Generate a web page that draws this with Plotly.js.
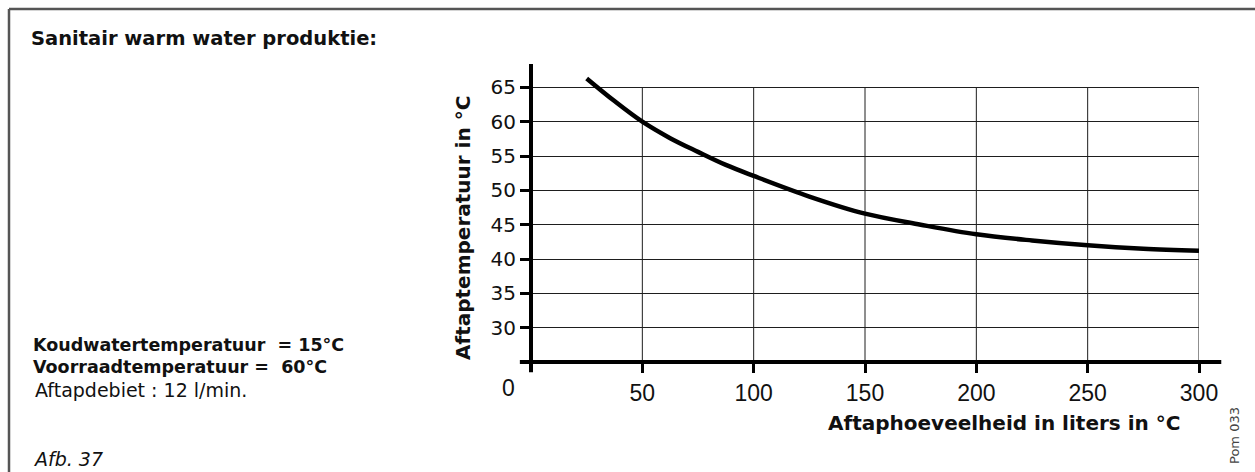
<!DOCTYPE html>
<html>
<head>
<meta charset="utf-8">
<script src="https://cdn.plot.ly/plotly-3.0.1.min.js"></script>
<style>
  html, body { margin: 0; padding: 0; background: #ffffff; }
  #chart { width: 1255px; height: 472px; }
</style>
</head>
<body>
<div id="chart"></div>
<script>
// ---- Data ----
const volumeLiters = [25, 37.5, 50, 62.5, 75, 87.5, 100, 125, 150, 175, 200, 225, 250, 275, 300];
const tapTempC     = [66.3, 63.0, 60.0, 57.6, 55.6, 53.7, 52.1, 49.1, 46.6, 45.0, 43.6, 42.7, 42.0, 41.5, 41.2];

const xTickVals = [50, 100, 150, 200, 250, 300];
const xTickText = ['50', '100', '150', '200', '250', '300'];
const yTickVals = [30, 35, 40, 45, 50, 55, 60, 65];
const yTickText = ['30', '35', '40', '45', '50', '55', '60', '65'];
const originLabel = '0';

const chartTitle = 'Sanitair warm water produktie:';
const yTitle = 'Aftaptemperatuur in °C';
const xTitle = 'Aftaphoeveelheid in liters in °C';
const noteLines = ['Koudwatertemperatuur\u00a0 = 15°C', 'Voorraadtemperatuur =\u00a0 60°C'];
const noteFlow = 'Aftapdebiet : 12 l/min.';
const figLabel = 'Afb. 37';
const codeLabel = 'Pom 033';

// ---- Layout geometry ----
const W = 1255, H = 472;
const M = { l: 531, r: 56, t: 64, b: 110 };
const xRange = [0, 300];
const yRange = [25, 68.4];
const gridTop = 65;
const pw = W - M.l - M.r, ph = H - M.t - M.b;
const pxX = px => (px - M.l) / pw;             // page pixel -> paper x
const pxY = py => (H - M.b - py) / ph;         // page pixel -> paper y
const dX = v => (v - xRange[0]) / (xRange[1] - xRange[0]);
const dY = v => (v - yRange[0]) / (yRange[1] - yRange[0]);

const sans = 'DejaVu Sans, Verdana, sans-serif';
const tickSans = 'Liberation Sans, Arial, sans-serif';
const ink = '#000000';
const gridInk = '#1e1e1e';

const shapes = [];
// vertical grid lines (stop at the top grid line)
xTickVals.forEach(v => shapes.push({
  type: 'line', xref: 'x', yref: 'y', x0: v, x1: v, y0: yRange[0], y1: gridTop,
  line: { color: gridInk, width: 1 }, layer: 'below'
}));
// thick x axis (extends slightly beyond the grid)
shapes.push({ type: 'line', xref: 'paper', yref: 'paper',
  x0: dX(-5), x1: dX(310), y0: 0, y1: 0, line: { color: ink, width: 4 } });
// thick y axis (extends above the grid and below the x axis)
shapes.push({ type: 'line', xref: 'paper', yref: 'paper',
  x0: 0, x1: 0, y0: dY(23.5), y1: 1, line: { color: ink, width: 4 } });
// outer frame (top and left edges)
shapes.push({ type: 'line', xref: 'paper', yref: 'paper',
  x0: pxX(9), x1: pxX(1260), y0: pxY(9), y1: pxY(9), line: { color: '#555555', width: 2.5 } });
shapes.push({ type: 'line', xref: 'paper', yref: 'paper',
  x0: pxX(9), x1: pxX(9), y0: pxY(9), y1: pxY(480), line: { color: '#555555', width: 2.5 } });

const annotations = [
  { text: '<b>' + chartTitle + '</b>', xref: 'paper', yref: 'paper', x: pxX(29), y: pxY(38),
    xanchor: 'left', yanchor: 'middle', showarrow: false, font: { family: sans, size: 19.5, color: '#111' } },
  { text: '<b>' + noteLines[0] + '</b>', xref: 'paper', yref: 'paper', x: pxX(31), y: pxY(345),
    xanchor: 'left', yanchor: 'middle', showarrow: false, font: { family: sans, size: 17.5, color: '#111' } },
  { text: '<b>' + noteLines[1] + '</b>', xref: 'paper', yref: 'paper', x: pxX(31), y: pxY(367),
    xanchor: 'left', yanchor: 'middle', showarrow: false, font: { family: sans, size: 17.5, color: '#111' } },
  { text: noteFlow, xref: 'paper', yref: 'paper', x: pxX(33), y: pxY(390),
    xanchor: 'left', yanchor: 'middle', showarrow: false, font: { family: sans, size: 19, color: '#111' } },
  { text: '<i>' + figLabel + '</i>', xref: 'paper', yref: 'paper', x: pxX(31), y: pxY(459),
    xanchor: 'left', yanchor: 'middle', showarrow: false, font: { family: sans, size: 19, color: '#111' } },
  { text: originLabel, xref: 'paper', yref: 'paper', x: dX(-10), y: pxY(388),
    xanchor: 'center', yanchor: 'middle', showarrow: false, font: { family: tickSans, size: 23, color: '#111' } },
  { text: '<b>' + yTitle + '</b>', xref: 'paper', yref: 'paper', x: pxX(463), y: pxY(228),
    xanchor: 'center', yanchor: 'middle', textangle: -90, showarrow: false, font: { family: sans, size: 20, color: '#111' } },
  { text: '<b>' + xTitle + '</b>', xref: 'paper', yref: 'paper', x: pxX(1004), y: pxY(423),
    xanchor: 'center', yanchor: 'middle', showarrow: false, font: { family: sans, size: 20, color: '#111' } },
  { text: codeLabel, xref: 'paper', yref: 'paper', x: pxX(1234), y: pxY(436),
    xanchor: 'center', yanchor: 'middle', textangle: -90, showarrow: false, font: { family: sans, size: 13, color: '#444' } }
];

const trace = {
  type: 'scatter', mode: 'lines', x: volumeLiters, y: tapTempC,
  line: { color: ink, width: 4.5, shape: 'spline', smoothing: 1 },
  hoverinfo: 'x+y', showlegend: false
};

const layout = {
  width: W, height: H,
  margin: M,
  paper_bgcolor: '#ffffff', plot_bgcolor: '#ffffff',
  showlegend: false,
  xaxis: {
    range: xRange, fixedrange: true,
    tickmode: 'array', tickvals: xTickVals, ticktext: xTickText,
    ticks: 'outside', ticklen: 10, tickwidth: 3, tickcolor: ink,
    showgrid: false, zeroline: false, showline: false,
    tickfont: { family: tickSans, size: 23, color: '#111' }
  },
  yaxis: {
    range: yRange, fixedrange: true,
    tickmode: 'array', tickvals: yTickVals, ticktext: yTickText,
    ticks: 'outside', ticklen: 10, tickwidth: 3, tickcolor: ink,
    showgrid: true, gridcolor: gridInk, gridwidth: 1,
    zeroline: false, showline: false,
    tickfont: { family: sans, size: 20, color: '#111' }
  },
  shapes: shapes,
  annotations: annotations
};

Plotly.newPlot('chart', [trace], layout, { displayModeBar: false, staticPlot: true });
</script>
</body>
</html>
